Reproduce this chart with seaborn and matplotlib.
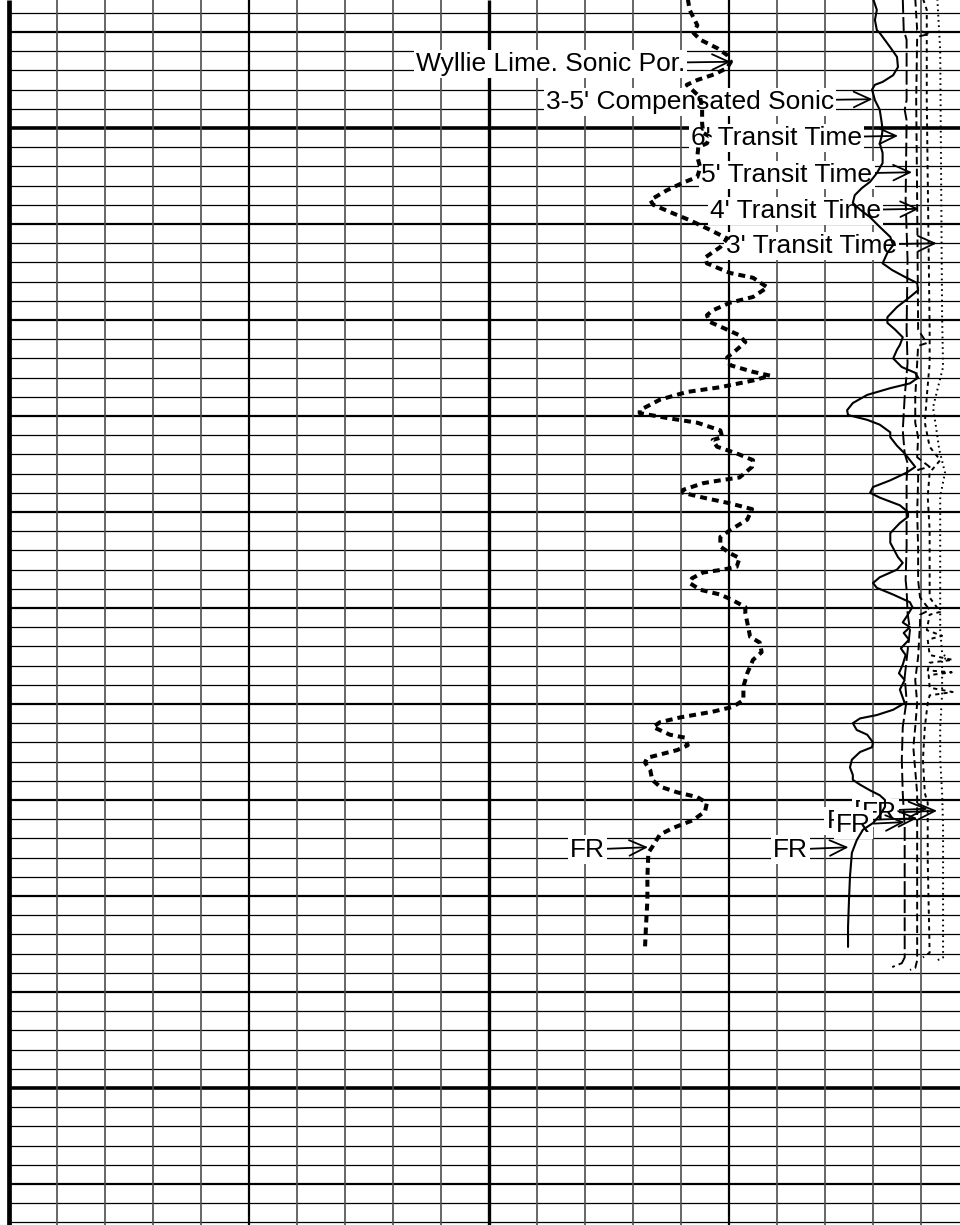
import numpy as np
import matplotlib
matplotlib.use("Agg")
import matplotlib.pyplot as plt
import seaborn as sns

wyllie_depth = [5086.5, 5087.7, 5089.3, 5090.1, 5090.8, 5091.7, 5092.4, 5093.1, 5093.75, 5094.4,
                5095.0, 5095.5, 5096.8, 5098.1, 5099.5, 5100.5, 5100.9, 5101.6, 5102.0, 5103.0,
                5104.1, 5105.1, 5105.7, 5106.5, 5107.5, 5108.0, 5108.9, 5109.6, 5110.6, 5111.5,
                5112.4, 5113.5, 5114.1, 5115.1, 5115.6, 5116.6, 5117.6, 5118.2, 5119.0, 5119.5,
                5120.2, 5121.0, 5121.6, 5122.3, 5123.1, 5123.9, 5124.7, 5125.4, 5125.8, 5126.3,
                5127.0, 5127.5, 5128.3, 5129.4, 5129.7, 5130.2, 5130.7, 5131.5, 5132.2, 5132.5,
                5133.2, 5133.9, 5134.6, 5135.3, 5136.4, 5136.7, 5137.0, 5137.7, 5138.0, 5138.5,
                5139.1, 5139.7, 5140.8, 5141.9, 5142.6, 5143.6, 5144.3, 5144.8, 5145.7, 5146.0,
                5146.3, 5146.9, 5147.4, 5148.1, 5148.6, 5149.2, 5149.9, 5150.5, 5152.0, 5153.0,
                5153.6, 5154.6, 5155.4, 5156.8, 5158.2, 5159.6, 5160.3, 5160.8, 5161.4, 5161.9,
                5162.4, 5163.2, 5163.5, 5164.3, 5164.8, 5165.6, 5166.1, 5166.9, 5167.9, 5168.6,
                5169.2, 5169.7, 5170.3, 5171.2, 5172.1, 5172.9, 5173.6, 5174.9, 5175.5, 5178.0,
                5180.4, 5183.2, 5185.4]
wyllie_x = [70.7, 70.9, 71.7, 71.3, 72.0, 73.8, 74.8, 75.2, 74.8, 73.5,
            71.7, 70.6, 72.0, 72.2, 72.2, 72.3, 73.0, 72.7, 71.8, 71.7,
            72.0, 71.7, 70.2, 68.5, 66.8, 67.1, 69.2, 70.9, 73.0, 74.8,
            74.1, 72.5, 72.7, 75.1, 77.5, 79.0, 77.5, 75.1, 73.3, 72.7,
            73.0, 74.8, 76.1, 76.7, 75.8, 74.8, 75.1, 77.5, 79.3, 77.5,
            74.1, 70.6, 67.8, 65.7, 65.7, 68.5, 71.7, 74.1, 74.3, 73.3,
            73.75, 75.8, 77.5, 77.4, 76.1, 74.1, 72.3, 70.2, 70.2, 72.3,
            75.1, 77.4, 76.9, 75.1, 74.1, 74.1, 75.1, 76.1, 75.8, 74.4,
            72.3, 71.15, 70.9, 72.0, 74.1, 75.4, 76.7, 76.7, 77.0, 77.2,
            78.2, 78.4, 77.5, 76.9, 76.5, 76.5, 75.4, 73.3, 69.9, 67.8,
            67.1, 68.85, 70.4, 70.7, 69.6, 66.5, 66.25, 66.8, 67.0, 67.8,
            69.6, 71.7, 72.7, 72.5, 71.25, 69.2, 67.8, 67.0, 66.6, 66.5,
            66.5, 66.35, 66.25]

sonic_depth = [5086.5, 5087.7, 5088.75, 5089.8, 5090.1, 5091.6, 5092.6, 5093.65, 5094.5, 5095.2,
               5095.5, 5096.0, 5097.1, 5098.1, 5099.4, 5100.2, 5100.9, 5101.6, 5102.6, 5103.65,
               5104.7, 5105.6, 5106.25, 5107.0, 5107.8, 5108.5, 5109.3, 5110.3, 5111.35, 5112.2,
               5113.0, 5114.1, 5114.8, 5115.5, 5116.15, 5116.9, 5117.6, 5118.65, 5119.7, 5120.3,
               5121.0, 5121.8, 5122.6, 5123.1, 5124.0, 5124.9, 5125.5, 5126.0, 5126.6, 5127.1,
               5127.8, 5128.65, 5129.4, 5129.9, 5130.4, 5130.9, 5131.7, 5132.2, 5133.1, 5133.9,
               5134.6, 5135.3, 5135.9, 5136.7, 5137.4, 5138.0, 5138.5, 5139.3, 5140.0, 5140.5,
               5141.15, 5142.2, 5143.2, 5144.7, 5145.3, 5146.0, 5146.8, 5147.4, 5147.9, 5148.6,
               5149.4, 5149.9, 5150.9, 5151.5, 5152.0, 5152.6, 5153.3, 5154.2, 5154.9, 5155.9,
               5156.8, 5157.5, 5158.5, 5159.9, 5160.6, 5161.15, 5161.5, 5162.0, 5162.7, 5163.2,
               5164.0, 5164.5, 5165.0, 5165.8, 5166.6, 5167.4, 5167.9, 5168.4, 5169.0, 5169.5,
               5170.0, 5170.7, 5171.6, 5172.4, 5173.1, 5174.2, 5175.5, 5178.0, 5180.4, 5183.2,
               5185.3]
sonic_x = [90.0, 90.4, 90.2, 90.4, 90.7, 91.8, 92.5, 92.6, 92.1, 91.0,
           90.2, 89.9, 90.2, 90.7, 90.9, 91.0, 90.9, 90.7, 91.0, 91.0,
           90.4, 89.7, 88.85, 88.1, 87.9, 88.65, 89.7, 90.7, 91.8, 92.1,
           91.5, 91.0, 92.0, 93.3, 94.6, 94.7, 93.85, 92.5, 91.5, 91.5,
           92.3, 93.1, 92.8, 92.5, 92.1, 93.0, 94.4, 94.7, 93.85, 91.8,
           89.4, 87.9, 87.3, 87.4, 89.4, 90.7, 91.8, 91.8, 92.5, 93.3,
           93.85, 94.4, 93.5, 91.8, 90.0, 89.7, 90.7, 92.8, 93.65, 93.65,
           92.8, 91.8, 91.8, 92.6, 93.1, 92.5, 90.7, 90.0, 90.4, 92.1,
           93.85, 94.1, 93.5, 93.1, 93.85, 93.2, 93.75, 92.9, 93.4, 93.1,
           92.7, 93.3, 92.8, 93.3, 92.1, 90.4, 88.65, 87.9, 88.3, 89.4,
           90.0, 89.9, 88.65, 87.8, 87.6, 87.9, 87.9, 88.65, 89.7, 90.7,
           91.25, 91.25, 90.7, 90.0, 88.95, 88.3, 87.8, 87.6, 87.5, 87.4,
           87.4]

tt6_depth = [5086.5, 5089.8, 5090.8, 5097.1, 5098.1, 5099.2, 5107.5, 5113.75, 5121.0, 5124.5,
             5128.0, 5131.5, 5133.9, 5134.9, 5136.7, 5143.6, 5147.1, 5148.1, 5150.5, 5152.3,
             5155.4, 5157.2, 5159.6, 5162.4, 5165.8, 5169.3, 5172.8, 5179.7, 5186.4, 5187.0,
             5187.4]
tt6_x = [93.1, 93.2, 93.5, 93.5, 93.3, 93.5, 93.4, 93.6, 93.5, 93.6,
         93.3, 93.1, 93.3, 93.6, 93.5, 93.5, 93.4, 93.5, 93.6, 93.85,
         93.5, 93.3, 93.5, 93.1, 93.0, 93.1, 93.3, 93.3, 93.3, 93.0,
         92.0]

tt5_depth = [5086.5, 5089.8, 5090.2, 5090.5, 5097.1, 5107.5, 5121.0, 5122.4, 5122.7, 5124.5,
             5128.0, 5130.7, 5132.2, 5134.3, 5135.3, 5135.6, 5136.7, 5140.1, 5143.6, 5147.1,
             5148.9, 5150.2, 5150.7, 5151.6, 5155.1, 5157.5, 5159.9, 5162.4, 5164.5, 5166.9,
             5169.3, 5172.8, 5186.7, 5187.5, 5187.7]
tt5_x = [94.4, 94.6, 95.9, 94.6, 94.5, 94.6, 94.7, 95.6, 94.7, 94.6,
         94.4, 94.4, 94.7, 94.6, 95.9, 94.7, 94.7, 94.6, 94.7, 94.7,
         94.9, 95.9, 94.9, 94.9, 94.7, 94.4, 94.6, 94.4, 94.2, 94.4,
         94.6, 94.6, 94.6, 94.4, 93.85]

tt4_depth = [5086.5, 5087.7, 5097.1, 5121.0, 5124.5, 5128.0, 5130.7, 5133.2, 5134.6, 5135.9,
             5138.4, 5141.9, 5148.9, 5150.4, 5150.7, 5152.3, 5152.9, 5153.3, 5154.9, 5155.4,
             5155.7, 5156.5, 5156.7, 5157.0, 5158.3, 5158.75, 5159.1, 5159.9, 5162.4, 5165.8,
             5169.3, 5170.3, 5176.25, 5185.9, 5186.4]
tt4_x = [95.2, 95.6, 95.6, 95.9, 95.9, 95.6, 95.4, 95.9, 97.0, 95.9,
         95.7, 95.9, 95.9, 97.0, 95.9, 95.6, 97.2, 95.7, 95.9, 98.3,
         95.9, 95.7, 98.2, 95.8, 95.9, 98.3, 95.9, 95.7, 95.4, 95.2,
         95.4, 95.7, 95.7, 95.9, 95.2]

tt3_depth = [5086.5, 5091.9, 5119.7, 5124.9, 5127.3, 5129.1, 5130.7, 5133.5, 5135.9, 5138.4,
             5141.9, 5149.5, 5152.3, 5154.7, 5155.2, 5155.4, 5158.9, 5162.4, 5165.8, 5169.3,
             5172.8, 5184.9, 5186.4, 5186.7]
tt3_x = [96.7, 97.0, 97.2, 97.3, 96.7, 96.25, 96.5, 96.9, 97.5, 97.0,
         97.0, 97.0, 97.0, 97.2, 97.7, 97.2, 97.2, 97.0, 97.0, 97.2,
         97.3, 97.3, 97.3, 96.7]

curve_names = ["wyllie", "sonic", "tt6", "tt5", "tt4", "tt3"]
curve_labels = ["Wyllie Lime. Sonic Por.", "3-5' Compensated Sonic", "6' Transit Time",
                "5' Transit Time", "4' Transit Time", "3' Transit Time"]
label_depths = [5093.1, 5097.0, 5100.8, 5104.6, 5108.4, 5112.0]
fr_curves = ["wyllie", "sonic", "tt4", "tt3", "tt5", "tt6"]
fr_depths = [5174.9, 5174.9, 5170.9, 5171.1, 5171.9, 5172.3]

curves = {
    "wyllie": (wyllie_x, wyllie_depth),
    "sonic": (sonic_x, sonic_depth),
    "tt6": (tt6_x, tt6_depth),
    "tt5": (tt5_x, tt5_depth),
    "tt4": (tt4_x, tt4_depth),
    "tt3": (tt3_x, tt3_depth),
}

# line styles (dash lengths in points)
styles = {
    "wyllie": dict(lw=2.9, linestyle=(0, (5.0, 3.6))),
    "sonic": dict(lw=1.5, linestyle="-"),
    "tt6": dict(lw=1.4, linestyle=(0, (10, 3))),
    "tt5": dict(lw=1.4, linestyle=(0, (5.5, 3))),
    "tt4": dict(lw=1.4, linestyle=(0, (3, 3))),
    "tt3": dict(lw=1.4, linestyle=(0, (1.2, 2.6))),
}
# (offset of text from the curve, arrow gap), points
label_geom = [(33, 0), (29, 1.5), (32, 6), (32, 3.5), (34, 6.5), (32, 3.5)]
fr_geom = [(34, 3), (33, 4), (28, 0), (33, 4), (40, 0), (24, 0)]

sns.set_style("white")
plt.rcParams["font.family"] = ["Liberation Sans", "DejaVu Sans"]
plt.rcParams["lines.scale_dashes"] = False

fig = plt.figure(figsize=(9.6, 12.25), dpi=100)
ax = fig.add_axes([0, 0, 1, 1])
top, bottom = 5086.667, 5214.27
x_left, x_right = -0.9375, 99.0625

# log grid: 2 ft lines, heavier every 10 ft and 100 ft
for d in np.arange(5088, 5215, 2):
    if d % 100 == 0:
        lw, c = 2.6, "black"
    elif d % 10 == 0:
        lw, c = 1.6, "black"
    else:
        lw, c = 0.9, "black"
    ax.hlines(d, 0, x_right, colors=c, linewidth=lw, zorder=1)

for x in range(0, 100, 5):
    j = x // 5
    if j == 0:
        lw, c = 3.4, "black"
    elif j == 10:
        lw, c = 2.4, "black"
    elif j in (5, 15):
        lw, c = 1.6, "black"
    else:
        lw, c = 1.2, "#4d4d4d"
    ax.vlines(x, top, bottom, colors=c, linewidth=lw, zorder=2)

for name in curve_names:
    cx, cd = curves[name]
    sns.lineplot(x=cx, y=cd, sort=False, estimator=None, ax=ax, color="black",
                 legend=False, zorder=4, **styles[name])


def label(text, name, depth, offset, gap):
    cx, cd = curves[name]
    tip = np.interp(depth, cd, cx)
    ax.annotate(text, xy=(tip, depth), xytext=(-offset, 0), textcoords="offset points",
                ha="right", va="center_baseline", fontsize=19, color="black", zorder=3,
                bbox=dict(boxstyle="square,pad=0.08", fc="white", ec="none"),
                arrowprops=dict(arrowstyle="->,head_length=0.6,head_width=0.28",
                                mutation_scale=20, lw=1.3, color="black",
                                shrinkA=0, shrinkB=gap))


for text, name, depth, (off, gap) in zip(curve_labels, curve_names, label_depths, label_geom):
    label(text, name, depth, off, gap)
for name, depth, (off, gap) in zip(fr_curves, fr_depths, fr_geom):
    label("FR", name, depth, off, gap)

ax.set_xlim(x_left, x_right)
ax.set_ylim(bottom, top)
ax.axis("off")
fig.patch.set_facecolor("white")
fig.savefig("out.png", dpi=100, facecolor="white")
